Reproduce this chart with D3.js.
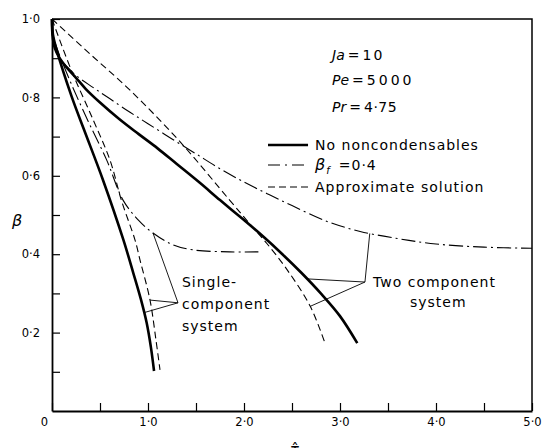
<!DOCTYPE html>
<html>
<head>
<meta charset="utf-8">
<script src="https://cdn.jsdelivr.net/npm/d3@7"></script>
<style>
  body { margin: 0; background: #fff; }
  svg { display: block; font-family: "DejaVu Sans", sans-serif; }
</style>
</head>
<body>
<svg id="chart" width="544" height="448"></svg>
<script>
// axis ticks
const xTicks = [0, 0.5, 1, 1.5, 2, 2.5, 3, 3.5, 4, 4.5, 5];
const yTicks = [0.1, 0.2, 0.3, 0.4, 0.5, 0.6, 0.7, 0.8, 0.9, 1.0];

// single-component system
const singleSolidX = [0, 0.01, 0.05, 0.205, 0.333, 0.53, 0.743, 0.847, 0.927, 0.986, 1.03, 1.063];
const singleSolidY = [1.0, 0.96, 0.92, 0.802, 0.718, 0.59, 0.437, 0.352, 0.284, 0.225, 0.163, 0.102];
const singleDashDotX = [0, 0.01, 0.06, 0.2, 0.375, 0.57, 0.74, 0.9, 1.052, 1.26, 1.47, 1.85, 2.15];
const singleDashDotY = [1.0, 0.96, 0.92, 0.835, 0.74, 0.64, 0.538, 0.487, 0.454, 0.424, 0.411, 0.406, 0.406];
const singleDashedX = [0, 0.2, 0.43, 0.604, 0.726, 0.865, 0.917, 1.021, 1.083, 1.125];
const singleDashedY = [1.0, 0.87, 0.742, 0.64, 0.535, 0.436, 0.385, 0.283, 0.181, 0.105];

// two component system
const twoSolidX = [0, 0.005, 0.03, 0.08, 0.15, 0.25, 0.35, 0.5, 0.7, 0.9, 1.1, 1.3, 1.54, 1.75, 2.0, 2.2, 2.4, 2.6, 2.8, 3.0, 3.18];
const twoSolidY = [1.0, 0.96, 0.925, 0.9, 0.877, 0.85, 0.822, 0.787, 0.745, 0.707, 0.67, 0.63, 0.582, 0.538, 0.487, 0.445, 0.4, 0.352, 0.3, 0.242, 0.173];
const twoDashDotX = [0, 0.005, 0.03, 0.08, 0.15, 0.25, 0.43, 0.6, 0.8125, 1.0, 1.25, 1.5, 1.75, 2.0, 2.236, 2.5, 2.86, 3.21, 3.6, 4.0, 4.5, 5.0];
const twoDashDotY = [1.0, 0.96, 0.925, 0.9, 0.88, 0.856, 0.825, 0.797, 0.762, 0.733, 0.694, 0.656, 0.618, 0.584, 0.555, 0.524, 0.484, 0.458, 0.44, 0.426, 0.418, 0.415];
const twoDashedX = [0, 0.4, 0.81, 1.333, 1.85, 2.09, 2.236, 2.45, 2.69, 2.844];
const twoDashedY = [1.0, 0.91, 0.819, 0.687, 0.538, 0.469, 0.428, 0.36, 0.267, 0.173];

// leader lines: vertex, then the curve points they reach
const singleLeaderX = [1.3125, 1.052, 1.021, 0.96];
const singleLeaderY = [0.276, 0.454, 0.283, 0.251];
const twoLeaderX = [3.26, 3.31, 2.66, 2.69];
const twoLeaderY = [0.329, 0.453, 0.337, 0.267];

// legend
const legendLabels = ["No noncondensables", "βf", "Approximate solution"];
const legendStyles = ["solid", "dashdot", "dashed"];

// parameters
const paramNames = ["Ja", "Pe", "Pr"];
const paramValues = ["10", "5000", "4·75"];

const svg = d3.select("#chart");
const x = d3.scaleLinear().domain([0, 5]).range([52, 532]);
const y = d3.scaleLinear().domain([0, 1]).range([411, 19]);

const fmt = d => d === 0 ? "0" : d3.format(".1f")(d).replace(".", "·");

const styles = {
  solid: { w: 2.6, dash: null },
  dashdot: { w: 1.1, dash: "14,4,2,4" },
  dashed: { w: 1.1, dash: "7,4" }
};

// axes
const gx = svg.append("g")
  .attr("transform", "translate(0," + y(0) + ")")
  .call(d3.axisBottom(x).tickValues(xTicks).tickSizeInner(-8).tickSizeOuter(0).tickPadding(7)
    .tickFormat(d => Number.isInteger(d) ? fmt(d) : ""));

const gy = svg.append("g")
  .attr("transform", "translate(" + x(0) + ",0)")
  .call(d3.axisLeft(y).tickValues(yTicks).tickSizeInner(-8).tickSizeOuter(0).tickPadding(12)
    .tickFormat(d => Math.round(d * 10) % 2 === 0 ? fmt(d) : ""));

[gx, gy].forEach(g => {
  g.attr("font-family", null).attr("font-size", null);
  g.select(".domain").attr("stroke", "#000").attr("stroke-width", 1.8);
  g.selectAll(".tick line").attr("stroke", "#000").attr("stroke-width", 1.2);
  g.selectAll(".tick text").attr("fill", "#000").style("font-size", "11.5px");
});
gx.selectAll(".tick text").filter(d => d === 0).attr("dx", -8);

// top and right border
svg.append("path")
  .attr("d", "M" + x(0) + "," + y(1) + "H" + x(5) + "V" + y(0))
  .attr("fill", "none").attr("stroke", "#000").attr("stroke-width", 1.5);

// curves
const line = d3.line().x(d => x(d[0])).y(d => y(d[1])).curve(d3.curveCatmullRom.alpha(0.5));

const curves = [
  [singleDashedX, singleDashedY, "dashed"],
  [singleDashDotX, singleDashDotY, "dashdot"],
  [singleSolidX, singleSolidY, "solid"],
  [twoDashedX, twoDashedY, "dashed"],
  [twoDashDotX, twoDashDotY, "dashdot"],
  [twoSolidX, twoSolidY, "solid"]
];

curves.forEach(([xs, ys, s]) => {
  svg.append("path")
    .datum(xs.map((v, i) => [v, ys[i]]))
    .attr("d", line)
    .attr("fill", "none")
    .attr("stroke", "#000")
    .attr("stroke-width", styles[s].w)
    .attr("stroke-dasharray", styles[s].dash)
    .attr("stroke-linecap", "butt");
});

// leader lines
[[singleLeaderX, singleLeaderY], [twoLeaderX, twoLeaderY]].forEach(([xs, ys]) => {
  for (let i = 1; i < xs.length; i++) {
    svg.append("line")
      .attr("x1", x(xs[0])).attr("y1", y(ys[0]))
      .attr("x2", x(xs[i])).attr("y2", y(ys[i]))
      .attr("stroke", "#000").attr("stroke-width", 0.9);
  }
});

// text helper
const txt = (px, py, size) => svg.append("text")
  .attr("x", px).attr("y", py)
  .style("font-size", size + "px")
  .style("letter-spacing", "1px")
  .attr("fill", "#000");

// Ja, Pe, Pr block
const paramY = [60, 85, 111.5];
const valueSpacing = [2, 3, 0.5];
paramNames.forEach((v, i) => {
  const t = svg.append("text").attr("x", x(2.917)).attr("y", paramY[i])
    .style("font-size", "14px").attr("fill", "#000");
  t.append("tspan").style("font-style", "italic").text(v);
  t.append("tspan").attr("dx", 3).text("=");
  t.append("tspan").attr("dx", 3).style("letter-spacing", valueSpacing[i] + "px").text(paramValues[i]);
});

// legend
const legendY = [145, 165, 187];
legendLabels.forEach((lab, i) => {
  const s = styles[legendStyles[i]];
  svg.append("line")
    .attr("x1", x(2.25)).attr("x2", x(2.667))
    .attr("y1", legendY[i]).attr("y2", legendY[i])
    .attr("stroke", "#000")
    .attr("stroke-width", i === 0 ? 2.4 : 1.1)
    .attr("stroke-dasharray", i === 1 ? "12,5,2,5" : s.dash);
  const t = txt(x(2.74), legendY[i] + 4.5, 14);
  if (i === 1) {
    t.append("tspan").style("font-style", "italic").style("font-size", "16px").text("β");
    t.append("tspan").style("font-style", "italic").style("font-size", "10px").attr("dy", 4).text("f");
    t.append("tspan").attr("dy", -4).attr("dx", 8).text("=0·4");
  } else {
    t.text(lab);
  }
});

// annotations
["Single-", "component", "system"].forEach((s, i) => {
  txt(x(1.354), [287, 309, 331][i], 14).text(s);
});
txt(x(3.344), 287, 14).text("Two component");
txt(x(3.729), 307, 14).text("system");

// axis titles
svg.append("text").attr("x", 17).attr("y", 226)
  .attr("text-anchor", "middle")
  .style("font-size", "16px").style("font-style", "italic")
  .text("β");
svg.append("text").attr("x", 295).attr("y", 455)
  .attr("text-anchor", "middle")
  .style("font-size", "15px")
  .text("τ\u0302");
</script>
</body>
</html>
